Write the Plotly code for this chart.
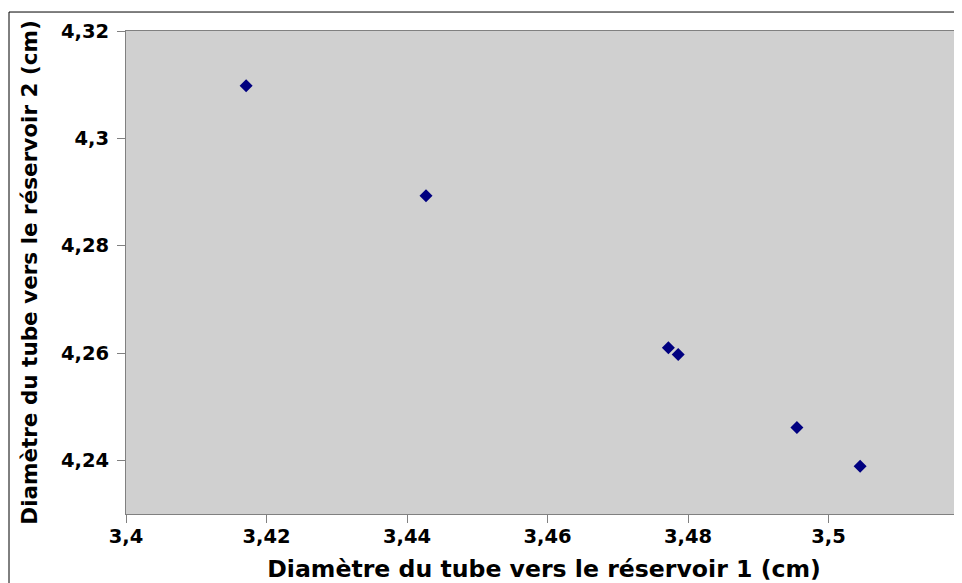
import plotly.graph_objects as go

x_vals = [3.4171, 3.4427, 3.4772, 3.4786, 3.4955, 3.5045]
y_vals = [4.3098, 4.2893, 4.2610, 4.2597, 4.2461, 4.2389]
x_ticks = [3.40, 3.42, 3.44, 3.46, 3.48, 3.50]
x_ticktext = ["3,4", "3,42", "3,44", "3,46", "3,48", "3,5"]
y_ticks = [4.24, 4.26, 4.28, 4.30, 4.32]
y_ticktext = ["4,24", "4,26", "4,28", "4,3", "4,32"]
x_title = "Diamètre du tube vers le réservoir 1 (cm)"
y_title = "Diamètre du tube vers le réservoir 2 (cm)"

fig = go.Figure(go.Scatter(
    x=x_vals, y=y_vals, mode="markers",
    marker=dict(symbol="diamond", size=10, color="#000080", line=dict(width=0)),
))

font_main = "DejaVu Sans"
# page body adds an 8px margin, so the figure is placed at (8, 8)
fig.update_layout(
    width=954, height=575,
    margin=dict(l=118, r=0, t=23, b=69),
    paper_bgcolor="white", plot_bgcolor="#d0d0d0",
    showlegend=False,
    font=dict(family=font_main, color="black"),
    xaxis=dict(
        range=[3.4, 3.519], tickvals=x_ticks, ticktext=x_ticktext,
        showgrid=False, zeroline=False, showline=True, linecolor="#808080", linewidth=1,
        mirror=True, ticks="outside", ticklen=8, tickcolor="#808080",
        ticklabelstandoff=-3,
        tickfont=dict(family=font_main, size=19.5, color="black", weight="bold"),
        title=dict(text="<b>" + x_title + "</b>", font=dict(size=23.6), standoff=18),
    ),
    yaxis=dict(
        range=[4.23, 4.32], tickvals=y_ticks, ticktext=y_ticktext,
        showgrid=False, zeroline=False, showline=True, linecolor="#808080", linewidth=1,
        mirror=False, ticks="outside", ticklen=8, tickcolor="#808080",
        ticklabelstandoff=4,
        tickfont=dict(family=font_main, size=19.5, color="black", weight="bold"),
        title=dict(text="<b>" + y_title + "</b>", font=dict(size=21.5), standoff=17),
    ),
    shapes=[
        dict(type="line", xref="paper", yref="paper", x0=-0.13995, x1=-0.13995,
             y0=1.0393, y1=-0.2, line=dict(color="black", width=1)),
        dict(type="line", xref="paper", yref="paper", x0=-0.13995, x1=1.02,
             y0=1.0393, y1=1.0393, line=dict(color="black", width=1)),
    ],
)

fig.write_html("out.html")
